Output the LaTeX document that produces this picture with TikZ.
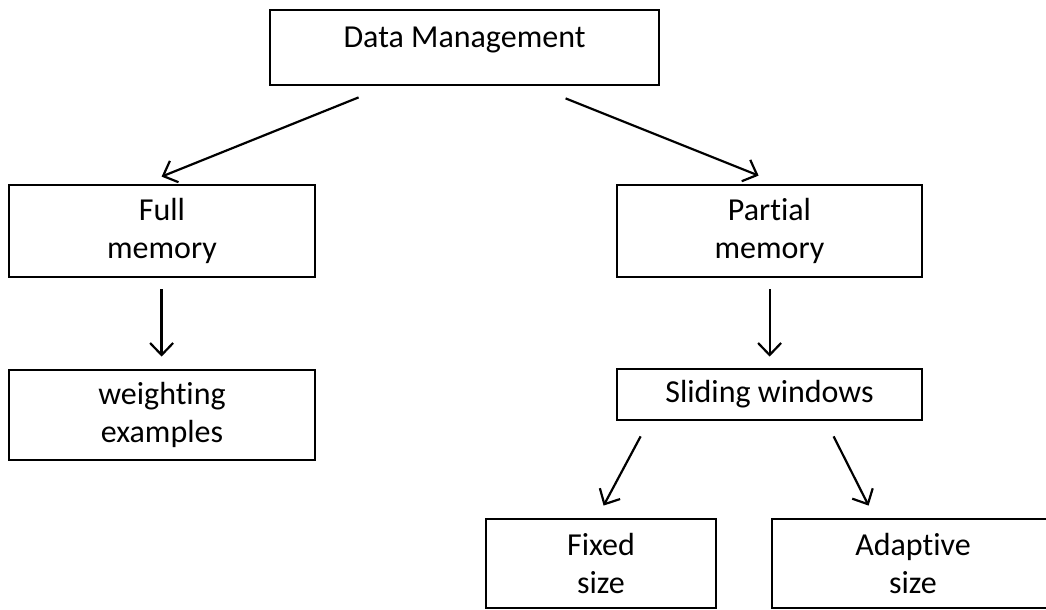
\documentclass[tikz,border=0pt]{standalone}
\usepackage{fontspec}
\setmainfont[Ligatures={NoCommon,NoRequired,NoContextual}]{Carlito}
\usetikzlibrary{arrows.meta,calc}
\tikzset{
  box/.style={draw=black, line width=2.8bp, rectangle, inner sep=0pt, align=center,
    font=\fontsize{32bp}{38bp}\selectfont},
  link/.style={draw=black, line width=2.2bp, -{Straight Barb[length=12bp,width=23bp,line width=2.2bp]}}
}
\begin{document}
\begin{tikzpicture}[x=1bp,y=-1bp]
  \clip (0,0) rectangle (1046,610);
  \fill[white] (0,0) rectangle (1046,610);

  % top of the hierarchy
  \node[box, minimum width=389bp, text height=38bp, text depth=37bp] (dm) at (464.5,47.5) {Data Management};

  % second level
  \node[box, minimum width=306bp, minimum height=92bp] (full) at (162,231) {Full\\memory};
  \node[box, minimum width=305bp, minimum height=92bp] (partial) at (769.5,231) {Partial\\memory};

  % third level
  \node[box, minimum width=306bp, minimum height=90bp] (weight) at (162,415) {weighting\\examples};
  \node[box, minimum width=305bp, minimum height=51bp] (sliding) at (769.5,394.5) {Sliding windows};

  % window sizes
  \node[box, minimum width=230bp, minimum height=89bp] (fixed) at (601,563.5) {Fixed\\size};
  \node[box, minimum width=282bp, minimum height=89bp] (adaptive) at (913,563.5) {Adaptive\\size};

  % connectors
  \draw[link] ($(dm.south west)+(90,11)$) -- ($(full.north west)+(154,-7)$);
  \draw[link] ($(dm.south west)+(297,12)$) -- ($(partial.north west)+(143,-8)$);
  \draw[link] ($(full.south west)+(154,11)$) -- ($(weight.north west)+(154,-12)$);
  \draw[link] ($(partial.south west)+(154,11)$) -- ($(sliding.north west)+(154,-11)$);
  \draw[link] ($(sliding.south west)+(25,15)$) -- ($(fixed.north west)+(119,-12)$);
  \draw[link] ($(sliding.south west)+(218,15)$) -- ($(adaptive.north west)+(98,-12)$);
\end{tikzpicture}
\end{document}
